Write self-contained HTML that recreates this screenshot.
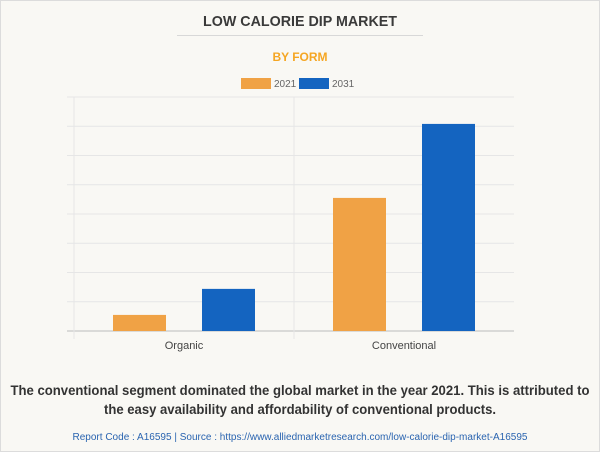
<!DOCTYPE html>
<html><head><meta charset="utf-8"><style>
html,body{margin:0;padding:0;background:#f9f8f4;}
svg{display:block;font-family:"Liberation Sans",Arial,sans-serif;}
</style></head><body>
<svg id="chart" width="600" height="452" viewBox="0 0 600 452">
<rect x="0.5" y="0.5" width="599" height="451" fill="#f9f8f4" stroke="#dcdcdc"/>
<text x="300" y="26" text-anchor="middle" font-size="15" font-weight="bold" fill="#3a3a3a" textLength="194" lengthAdjust="spacingAndGlyphs">LOW CALORIE DIP MARKET</text>
<line x1="177" y1="35.5" x2="423" y2="35.5" stroke="#d8d8d8"/>
<text x="300" y="61" text-anchor="middle" font-size="12" font-weight="bold" fill="#f5a623">BY FORM</text>
<g>
<rect x="241" y="78" width="30" height="11" fill="#f0a245"/>
<text x="274" y="87" font-size="10" fill="#666">2021</text>
<rect x="299" y="78" width="30" height="11" fill="#1464c0"/>
<text x="332" y="87" font-size="10" fill="#666">2031</text>
</g>
<g id="grid"></g>
<g id="bars"></g>
<g id="xlabels"></g>
<text x="300" y="395" text-anchor="middle" font-size="14" font-weight="bold" fill="#333" textLength="579" lengthAdjust="spacingAndGlyphs">The conventional segment dominated the global market in the year 2021. This is attributed to</text>
<text x="300" y="414" text-anchor="middle" font-size="14" font-weight="bold" fill="#333" textLength="392" lengthAdjust="spacingAndGlyphs">the easy availability and affordability of conventional products.</text>
<text x="300" y="440" text-anchor="middle" font-size="10" fill="#2a64b0" textLength="455" lengthAdjust="spacingAndGlyphs">Report Code : A16595  |  Source : https://www.alliedmarketresearch.com/low-calorie-dip-market-A16595</text>
</svg>
<script>
const categories = ["Organic", "Conventional"];
const series2021 = [0.55, 4.55];
const series2031 = [1.44, 7.08];
const yTicks = [0,1,2,3,4,5,6,7,8];

const NS = "http://www.w3.org/2000/svg";
const plotLeft = 74, plotRight = 514, yBase = 331, yTop = 97, yMax = 8;
const band = (plotRight - plotLeft) / categories.length;
function y(v){ return yBase - (v / yMax) * (yBase - yTop); }
function xCenter(i){ return plotLeft + band * (i + 0.5); }
function mk(tag, attrs, parent){ const e = document.createElementNS(NS, tag); for (const k in attrs) e.setAttribute(k, attrs[k]); parent.appendChild(e); return e; }

const grid = document.getElementById("grid");
yTicks.forEach(t => {
  const l = mk("line", {x1: 67, x2: plotRight, y1: y(t), y2: y(t), stroke: t === 0 ? "#cfcfcf" : "#e6e6e6", "stroke-width": t === 0 ? 1.5 : 1}, grid);
  
  
});
for (let i = 0; i <= categories.length - 1; i++) {
  const vx = plotLeft + band * i;
  const l = mk("line", {x1: vx, x2: vx, y1: yTop, y2: yBase + 8, stroke: "#e6e6e6"}, grid);
  
  
}

const bars = document.getElementById("bars");
const xl = document.getElementById("xlabels");
const bw = 53;
categories.forEach((c, i) => {
  const cx = xCenter(i);
  const b1 = mk("rect", {x: cx - 71, y: y(series2021[i]), width: bw, height: yBase - y(series2021[i]), fill: "#f0a245"}, bars);
  
  
  const b2 = mk("rect", {x: cx + 18, y: y(series2031[i]), width: bw, height: yBase - y(series2031[i]), fill: "#1464c0"}, bars);
  
  
  const t = mk("text", {x: cx, y: 349, "text-anchor": "middle", "font-size": 11, fill: "#444"}, xl);
  t.textContent = c;
  
  
});
</script>
</body></html>
